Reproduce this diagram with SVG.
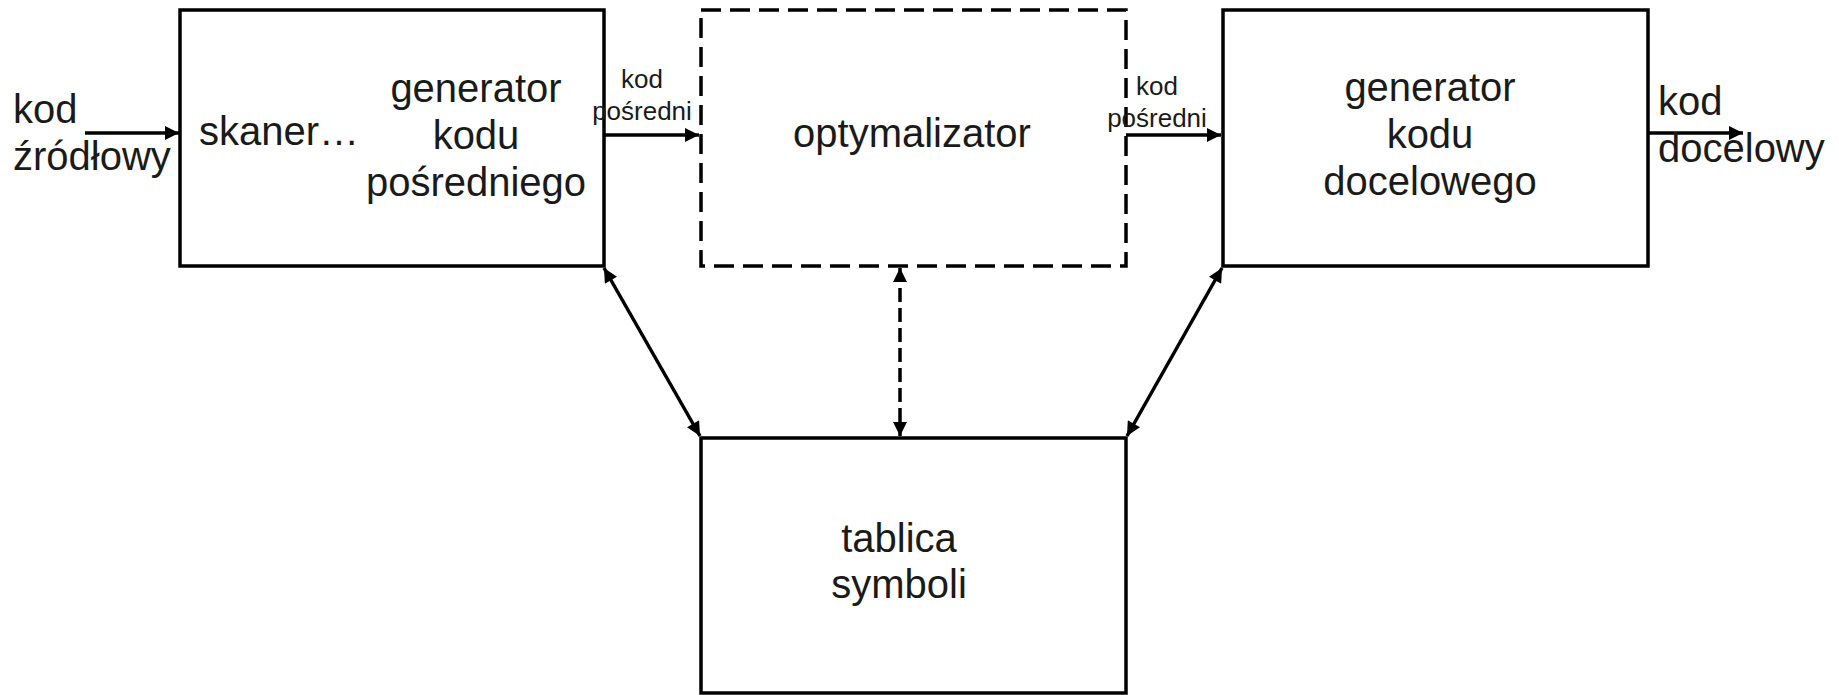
<svg xmlns="http://www.w3.org/2000/svg" width="1839" height="695" viewBox="0 0 1839 695">
<style>
.box{fill:#fff;stroke:#000;stroke-width:3.5}
.dbox{fill:#fff;stroke:#000;stroke-width:3.5;stroke-dasharray:20 9}
.t{font-family:"Liberation Sans",Arial,sans-serif;font-size:40px;fill:#1a1a1a}
.s{font-family:"Liberation Sans",Arial,sans-serif;font-size:26px;fill:#1a1a1a}
.c{text-anchor:middle}
.ln{stroke:#000;stroke-width:3.5;fill:none}
.dl{stroke:#000;stroke-width:3.5;fill:none;stroke-dasharray:14 6}
</style>
<defs>
<marker id="ah" viewBox="0 0 10 10" refX="10" refY="5" markerWidth="4.5" markerHeight="4" orient="auto-start-reverse" markerUnits="strokeWidth">
<path d="M0,0 L10,5 L0,10 z" fill="#000"/>
</marker>
</defs>
<rect width="1839" height="695" fill="#fff"/>
<g id="node-frontend">
<rect class="box" x="180" y="10" width="424" height="256"/>
<text class="t" x="199" y="145">skaner…</text>
<text class="t c" x="476" y="102">generator</text>
<text class="t c" x="476" y="149">kodu</text>
<text class="t c" x="476" y="196">pośredniego</text>
</g>
<g id="node-optimizer">
<rect class="dbox" x="701" y="10" width="425" height="256"/>
<text class="t c" x="912" y="147">optymalizator</text>
</g>
<g id="node-backend">
<rect class="box" x="1223" y="10" width="425" height="256"/>
<text class="t c" x="1430" y="101">generator</text>
<text class="t c" x="1430" y="148">kodu</text>
<text class="t c" x="1430" y="195">docelowego</text>
</g>
<g id="node-symbols">
<rect class="box" x="701" y="438" width="425" height="255"/>
<text class="t c" x="899" y="552">tablica</text>
<text class="t c" x="899" y="598">symboli</text>
</g>
<g id="connectors">
<line class="ln" x1="85" y1="133" x2="179" y2="133" marker-end="url(#ah)"/>
<line class="ln" x1="604" y1="135" x2="699" y2="135" marker-end="url(#ah)"/>
<line class="ln" x1="1126" y1="135" x2="1221" y2="135" marker-end="url(#ah)"/>
<line class="ln" x1="1648" y1="133" x2="1743" y2="133" marker-end="url(#ah)"/>
<line class="ln" x1="604" y1="268" x2="700" y2="436" marker-start="url(#ah)" marker-end="url(#ah)"/>
<line class="ln" x1="1222" y1="268" x2="1127" y2="436" marker-start="url(#ah)" marker-end="url(#ah)"/>
<line class="dl" x1="900" y1="268" x2="900" y2="436" marker-start="url(#ah)" marker-end="url(#ah)"/>
</g>
<g id="input-label">
<text class="t" x="13" y="123">kod</text>
<text class="t" x="13" y="170">źródłowy</text>
</g>
<g id="output-label">
<text class="t" x="1658" y="115">kod</text>
<text class="t" x="1658" y="162">docelowy</text>
</g>
<g id="mid-label-1">
<text class="s c" x="642" y="88">kod</text>
<text class="s c" x="642" y="120">pośredni</text>
</g>
<g id="mid-label-2">
<text class="s c" x="1157" y="95">kod</text>
<text class="s c" x="1157" y="127">pośredni</text>
</g>
</svg>
